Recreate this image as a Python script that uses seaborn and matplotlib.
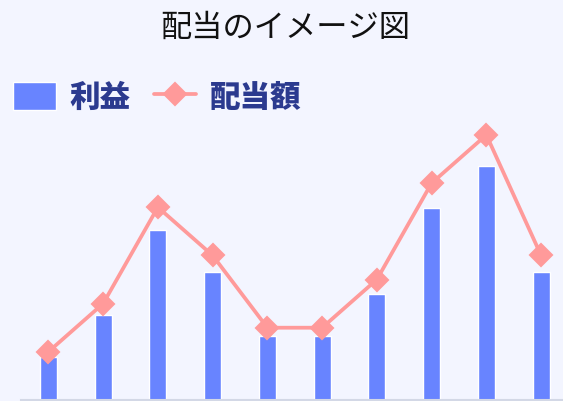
import pandas as pd
import matplotlib.pyplot as plt
import seaborn as sns

# Data
periods = ["1年目", "2年目", "3年目", "4年目", "5年目", "6年目", "7年目", "8年目", "9年目", "10年目"]
profit = [2, 4, 8, 6, 3, 3, 5, 9, 11, 6]
dividend = [1, 2, 4, 3, 1.5, 1.5, 2.5, 4.5, 5.5, 3]

df = pd.DataFrame({"period": periods, "profit": profit, "dividend": dividend})

bg = "#f3f5ff"
bar_color = "#6884ff"
line_color = "#ff9a9a"
navy = "#2b3a8f"

sns.set_style("white")
plt.rcParams["font.family"] = ["Noto Sans CJK JP", "DejaVu Sans"]
plt.rcParams["legend.handleheight"] = 1.0

fig = plt.figure(figsize=(5.63, 4.01), dpi=100, facecolor=bg)
ax = fig.add_axes([21 / 563, 1 / 401, 542 / 563, 280 / 401])
ax.set_facecolor(bg)

sns.barplot(data=df, x="period", y="profit", color=bar_color, width=0.31,
            saturation=1, label="利益", ax=ax)
ax.set_xlim(-0.5, 9.4)
ax.set_ylim(0, 13.15)

ax2 = ax.twinx()
sns.lineplot(data=df, x="period", y="dividend", color=line_color, linewidth=2.7,
             marker="D", markersize=11.5, markeredgewidth=1.5,
             markeredgecolor=line_color, label="配当額", ax=ax2, legend=False)
ax2.set_ylim(0, 5.81)
ax2.lines[0].set_solid_joinstyle("round")

for a in (ax, ax2):
    a.set_xlabel("")
    a.set_ylabel("")
    a.set_xticks([])
    a.set_yticks([])
    for side in ("top", "left", "right", "bottom"):
        a.spines[side].set_visible(False)
    if a.get_legend() is not None:
        a.get_legend().remove()
ax.spines["bottom"].set_visible(True)
ax.spines["bottom"].set_color("#d3d8e6")
ax.spines["bottom"].set_linewidth(1.5)

fig.text(0.506, 1 - 28 / 401, "配当のイメージ図", ha="center", va="center",
         fontsize=22.5, color="#111111")

h1, l1 = ax.get_legend_handles_labels()
h2, l2 = ax2.get_legend_handles_labels()
leg = fig.legend(h1 + h2, l1 + l2, loc="center left", bbox_to_anchor=(0.007, 1 - 97 / 401),
                 ncol=2, frameon=False, handlelength=1.4, handletextpad=0.45,
                 columnspacing=0.75, borderaxespad=0.0, borderpad=0.3,
                 prop={"family": ["Noto Sans CJK JP", "DejaVu Sans"], "weight": "black", "size": 22})
for t in leg.get_texts():
    t.set_color(navy)

fig.savefig("out.png", dpi=100, facecolor=bg)
